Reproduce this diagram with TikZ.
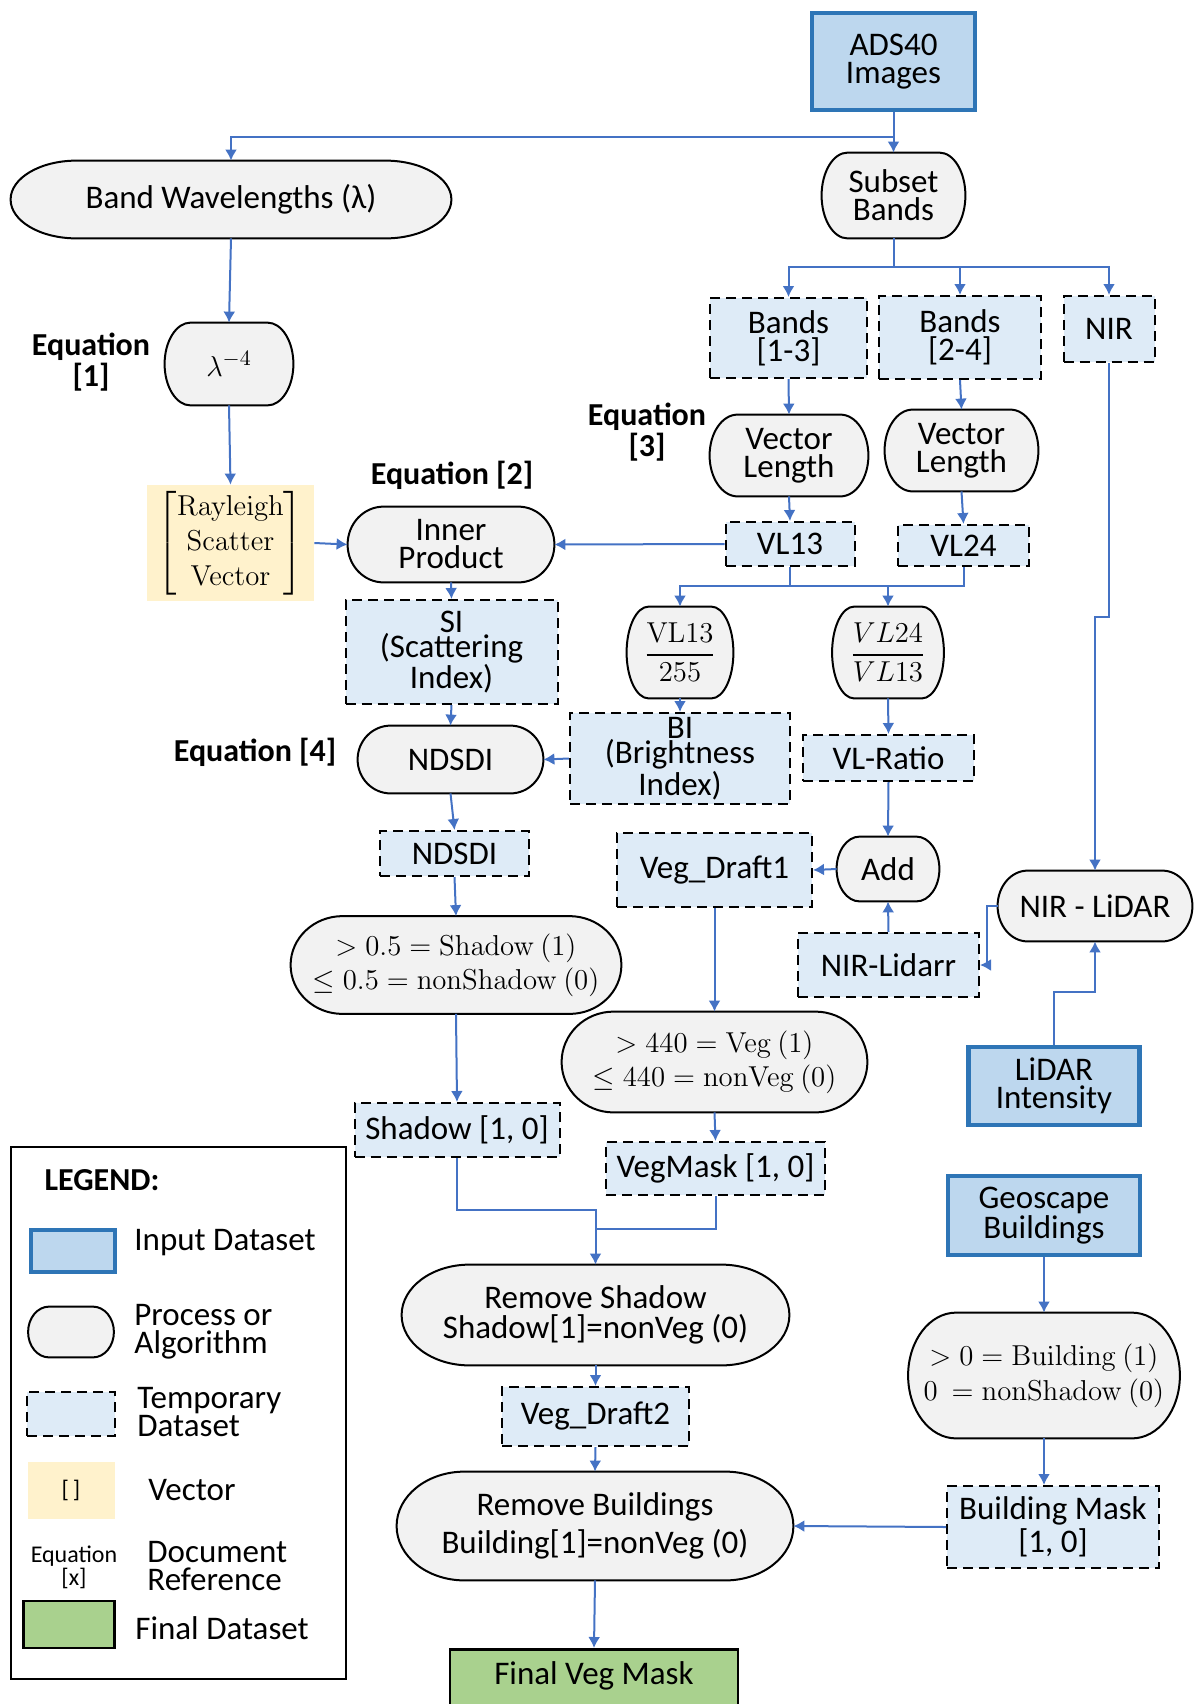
\documentclass[tikz,border=0pt]{standalone}
\usepackage{amsmath}
\usepackage[no-math]{fontspec}
\setmainfont{Carlito}
\usetikzlibrary{arrows.meta,calc,backgrounds}
\definecolor{inpfill}{HTML}{BDD7EE}
\definecolor{inpedge}{HTML}{2E75B6}
\definecolor{procfill}{HTML}{F2F2F2}
\definecolor{tmpfill}{HTML}{DEEBF7}
\definecolor{vecfill}{HTML}{FFF2CC}
\definecolor{finfill}{HTML}{A9D18E}
\definecolor{linkblue}{HTML}{4472C4}
\begin{document}
\begin{tikzpicture}[x=.5pt,y=-.5pt,font=\fontsize{16.5}{14}\selectfont,
  >={Latex[length=5.5pt,width=6pt]},
  every node/.style={align=center,inner sep=0pt},
  inp/.style={draw=inpedge,line width=2.2pt,fill=inpfill},
  proc/.style={rectangle},
  procline/.style={draw=black,line width=1pt,fill=procfill},
  tmp/.style={draw=black,line width=1pt,dash pattern=on 5pt off 3pt,fill=tmpfill},
  vec/.style={fill=vecfill},
  fin/.style={draw=black,line width=1.3pt,fill=finfill},
  eqn/.style={font=\fontsize{16}{14}\selectfont\bfseries},
  maths/.style={font=\fontsize{13.5}{17}\selectfont},
  link/.style={->,draw=linkblue,line width=1pt},
  wire/.style={draw=linkblue,line width=1pt},
  legtxt/.style={anchor=west,align=left}]
  \useasboundingbox (0,0) rectangle (1197,1704);

  % inputs and first split
  \node[inp,minimum width=81.5pt,minimum height=48.5pt] (ads) at (893.5,61.5) {ADS40\\Images};
  \node[proc,minimum width=220pt,minimum height=38.5pt] (band) at (231,199.5) {Band Wavelengths (λ)};
  \node[proc,minimum width=71.5pt,minimum height=42.5pt] (subset) at (893.5,195.5) {Subset\\Bands};
  \node[tmp,minimum width=78.5pt,minimum height=40pt] (b13) at (788.5,338) {Bands\\{[1-3]}};
  \node[tmp,minimum width=81pt,minimum height=41.5pt] (b24) at (960,337.5) {Bands\\{[2-4]}};
  \node[tmp,minimum width=45.5pt,minimum height=33pt] (nir) at (1109,329) {NIR};
  \node[eqn] (eq3) at (647,432) {Equation\\{[3]}};
  \node[proc,minimum width=79pt,minimum height=40.5pt] (vl1) at (789,455.5) {Vector\\Length};
  \node[proc,minimum width=76.5pt,minimum height=40.5pt] (vl2) at (961.5,450.5) {Vector\\Length};
  \node[tmp,minimum width=64.5pt,minimum height=22pt] (v13) at (790,544) {VL13};
  \node[tmp,minimum width=65.5pt,minimum height=20.5pt] (v24) at (963.5,545.5) {VL24};

  % scattering branch
  \node[proc,minimum width=64pt,minimum height=41pt,font=\fontsize{15}{17}\selectfont] (lam) at (229,364) {$\lambda^{-4}$};
  \node[eqn] (eq1) at (91,362) {Equation\\{[1]}};
  \node[vec,minimum width=83.5pt,minimum height=58pt,font=\fontsize{14.5}{17.5}\selectfont] (ray) at (230.5,543)
    {$\begin{bmatrix}\mathrm{Rayleigh}\\ \mathrm{Scatter}\\ \mathrm{Vector}\end{bmatrix}$};
  \node[eqn] (eq2) at (452,475) {Equation [2]};
  \node[proc,minimum width=103pt,minimum height=37.5pt] (inner) at (451,544.5) {Inner\\Product};
  \node[tmp,minimum width=106pt,minimum height=52pt,font=\fontsize{16.5}{12.5}\selectfont] (si) at (451.5,652) {SI\\(Scattering\\Index)};
  \node[proc,minimum width=92.5pt,minimum height=33.5pt] (ndp) at (450.5,759.5) {NDSDI};
  \node[eqn] (eq4) at (255,752) {Equation [4]};
  \node[tmp,minimum width=74.5pt,minimum height=22.5pt] (ndt) at (454.5,853.5) {NDSDI};

  % ratios
  \node[proc,minimum width=53pt,minimum height=45.5pt,font=\fontsize{13.5}{16}\selectfont] (f13) at (680,652.5) {$\dfrac{\mathrm{VL13}}{255}$};
  \node[proc,minimum width=55.5pt,minimum height=45.5pt,font=\fontsize{13.5}{16}\selectfont] (f24) at (888,652.5) {$\dfrac{VL24}{VL13}$};
  \node[tmp,minimum width=110pt,minimum height=45.5pt,font=\fontsize{16.5}{12.5}\selectfont] (bi) at (680,758.5) {BI\\(Brightness\\Index)};
  \node[tmp,minimum width=85.5pt,minimum height=23pt] (ratio) at (888.5,758) {VL-Ratio};
  \node[proc,minimum width=51pt,minimum height=32pt] (add) at (888,869) {Add};
  \node[tmp,minimum width=97.5pt,minimum height=37pt] (vd1) at (714.5,870) {Veg\_Draft1};
  \node[tmp,minimum width=90.5pt,minimum height=32pt] (nlr) at (888.5,965) {NIR-Lidarr};
  \node[proc,minimum width=97pt,minimum height=35pt] (nirl) at (1095,906) {NIR - LiDAR};
  \node[inp,minimum width=85.5pt,minimum height=39pt] (lid) at (1054,1086) {LiDAR\\Intensity};

  % masks
  \node[proc,minimum width=165pt,minimum height=48.5pt,maths] (shp) at (456,965)
    {$>0.5=\mathrm{Shadow}\ (1)$\\$\le 0.5=\mathrm{nonShadow}\ (0)$};
  \node[proc,minimum width=152.5pt,minimum height=50pt,maths] (vgp) at (714.5,1062)
    {$>440=\mathrm{Veg}\ (1)$\\$\le 440=\mathrm{nonVeg}\ (0)$};
  \node[tmp,minimum width=102.5pt,minimum height=27pt] (sh10) at (457,1130) {Shadow [1, 0]};
  \node[tmp,minimum width=109.5pt,minimum height=26.5pt] (vm10) at (715.5,1168.5) {VegMask [1, 0]};
  \node[proc,minimum width=193.5pt,minimum height=50pt,font=\fontsize{16.5}{15}\selectfont] (rms) at (595.5,1315) {Remove Shadow\\Shadow[1]=nonVeg (0)};
  \node[tmp,minimum width=93.5pt,minimum height=29.5pt] (vd2) at (595.5,1416.5) {Veg\_Draft2};
  \node[proc,minimum width=198pt,minimum height=54pt,font=\fontsize{16.5}{19}\selectfont] (rmb) at (595,1526) {Remove Buildings\\Building[1]=nonVeg (0)};
  \node[fin,minimum width=144pt,anchor=north,text height=17.5pt,text depth=18.5pt] (final) at (594,1648) {Final Veg Mask};
  \node[inp,minimum width=96pt,minimum height=39.5pt] (geo) at (1044,1215.5) {Geoscape\\Buildings};
  \node[proc,minimum width=135.5pt,minimum height=62.5pt,font=\fontsize{13.5}{17.5}\selectfont] (bdp) at (1044,1375.5)
    {$>0=\mathrm{Building}\ (1)$\\$0\ =\mathrm{nonShadow}\ (0)$};
  \node[tmp,minimum width=106pt,minimum height=41pt,font=\fontsize{16.5}{16.5}\selectfont] (bm10) at (1053,1527) {Building Mask\\{[1, 0]}};

  % legend
  \draw[line width=1pt] (11,1147) rectangle (346,1679);
  \node[font=\fontsize{16}{14}\selectfont\bfseries] (legend) at (102,1180) {LEGEND:};
  \node[inp,minimum width=42pt,minimum height=21pt] (kinp) at (72.7,1251) {};
  \node[legtxt] (tinp) at (134,1243) {Input Dataset};
  \node[proc,minimum width=42.5pt,minimum height=25pt] (kproc) at (71,1332) {};
  \node[legtxt] (tproc) at (134,1332) {Process or\\Algorithm};
  \node[tmp,minimum width=44pt,minimum height=22pt] (ktmp) at (71,1414) {};
  \node[legtxt] (ttmp) at (137,1412) {Temporary\\Dataset};
  \node[vec,minimum width=43.5pt,minimum height=28.5pt,font=\fontsize{12}{12}\selectfont] (kvec) at (71,1490.5) {{[\,]}};
  \node[legtxt] (tvec) at (148,1490) {Vector};
  \node[font=\fontsize{12}{10}\selectfont] (keq) at (74,1567) {Equation\\{[x]}};
  \node[legtxt] (teq) at (147,1566) {Document\\Reference};
  \node[fin,minimum width=45.5pt,minimum height=23.5pt] (kfin) at (69,1624.5) {};
  \node[legtxt] (tfin) at (135,1628) {Final Dataset};

  % connectors
  \coordinate (jtop) at (893.5,137);
  \coordinate (jband) at (893.5,267);
  \coordinate (jvl) at (790,586);
  \coordinate (jshadow) at (595.5,1210);
  \coordinate (jveg) at (595.5,1229);
  \draw[link] (ads.south) -- (subset.north);
  \draw[link] (jtop) -| (band.north);
  \draw[link] (band.south) -- (lam.north);
  \draw[link] (lam.south) -- (ray.north);
  \draw[link] (ray.east) -- (inner.west);
  \draw[wire] (subset.south) -- (jband);
  \foreach \t in {b13,b24,nir}
    \draw[link] (jband) -| (\t.north);
  \draw[link] (b13.south) -- (vl1.north);
  \draw[link] (b24.south) -- (vl2.north);
  \draw[link] (vl1.south) -- (v13.north);
  \draw[link] (vl2.south) -- (v24.north);
  \draw[link] (v13.west) -- (inner.east);
  \draw[wire] (v13.south) -- (jvl);
  \draw[wire] (v24.south) |- (jvl);
  \foreach \t in {f13,f24}
    \draw[link] (jvl) -| (\t.north);
  \draw[link] (inner.south) -- (si.north);
  \draw[link] (si.south) -- (ndp.north);
  \draw[link] (ndp.south) -- (ndt.north);
  \draw[link] (ndt.south) -- (shp.north);
  \draw[link] (shp.south) -- (sh10.north);
  \draw[link] (f13.south) -- (bi.north);
  \draw[link] (bi.west) -- (ndp.east);
  \draw[link] (f24.south) -- (ratio.north);
  \draw[link] (ratio.south) -- (add.north);
  \draw[link] (add.west) -- (vd1.east);
  \draw[link] (nlr.north) -- (add.south);
  \draw[link] (vd1.south) -- (vgp.north);
  \draw[link] (vgp.south) -- (vm10.north);
  \draw[link] (nir.south) -- ++(0,254) -| (nirl.north);
  \draw[link] (nirl.west) -- ++(-11,0) |- (nlr.east);
  \draw[link] (lid.north) -- ++(0,-53) -| (nirl.south);
  \draw[link] (sh10.south) |- (jshadow) -- (rms.north);
  \draw[wire] (vm10.south) |- (jveg);
  \draw[link] (rms.south) -- (vd2.north);
  \draw[link] (vd2.south) -- (rmb.north);
  \draw[link] (rmb.south) -- (final.north);
  \draw[link] (geo.south) -- (bdp.north);
  \draw[link] (bdp.south) -- (bdp.south |- bm10.north);
  \draw[link] (bm10.west) -- (rmb.east);

  % process outlines
  \begin{pgfonlayer}{background}
    \foreach \nd/\rr in {band/33,subset/13,lam/13,vl1/14,vl2/14,inner/18,ndp/16.5,f13/11,f24/11,
        add/11.5,nirl/15,shp/26,vgp/26,rms/34,rmb/34,bdp/24,kproc/10.5}
      \draw[procline] let \p1=(\nd.north west),\p2=(\nd.south east) in
        (\x1+\rr pt,\y1) -- (\x2-\rr pt,\y1)
        arc[start angle=90,end angle=-90,x radius=\rr pt,y radius={(\y1-\y2)/2}]
        -- (\x1+\rr pt,\y2)
        arc[start angle=270,end angle=90,x radius=\rr pt,y radius={(\y1-\y2)/2}] -- cycle;
  \end{pgfonlayer}
\end{tikzpicture}
\end{document}
